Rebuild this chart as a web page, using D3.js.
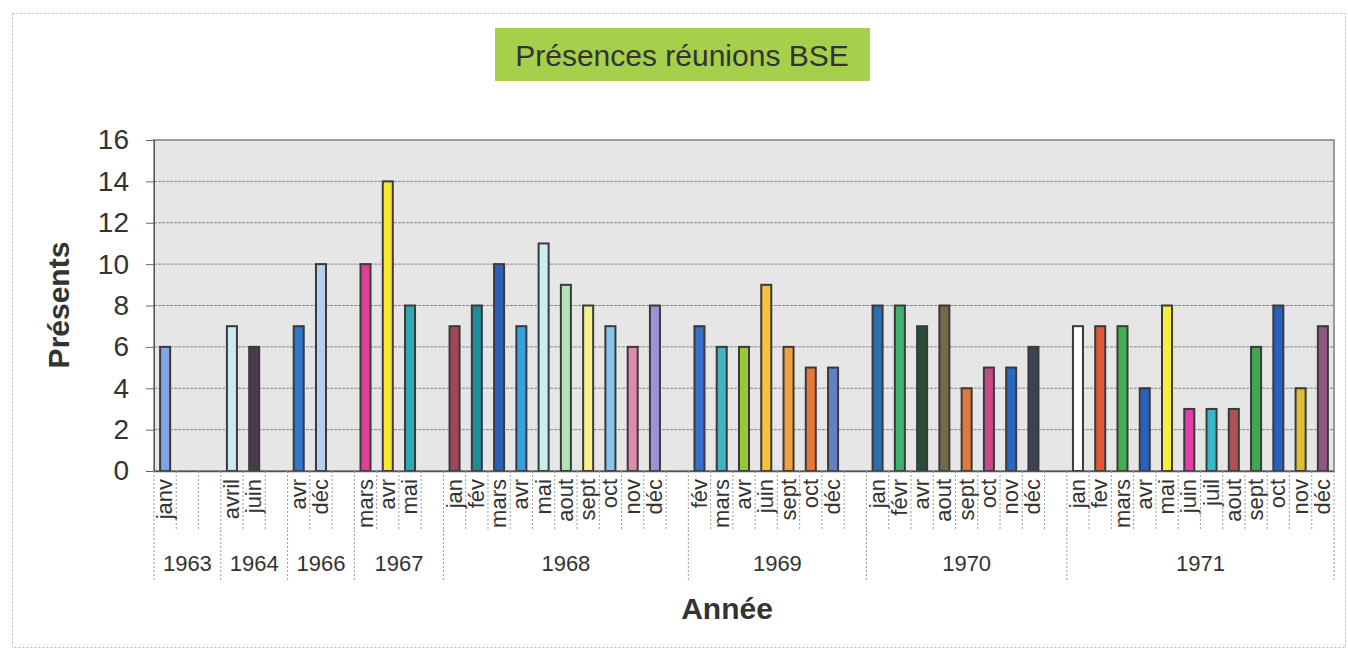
<!DOCTYPE html>
<html>
<head>
<meta charset="utf-8">
<script src="https://cdn.jsdelivr.net/npm/d3@7"></script>
<style>
  body { margin: 0; background: #fff; }
  svg { display: block; font-family: Arial, "Liberation Sans", sans-serif; }
</style>
</head>
<body>
<svg id="chart" width="1348" height="650"></svg>
<script>
// years (second category level)
const years = ["1963", "1964", "1966", "1967", "1968", "1969", "1970", "1971"];

// month labels per year, "" = empty slot
const monthLabels = [
  ["janv", "", ""],
  ["avril", "juin", ""],
  ["avr", "déc", ""],
  ["mars", "avr", "mai", ""],
  ["jan", "fév", "mars", "avr", "mai", "aout", "sept", "oct", "nov", "déc", ""],
  ["fév", "mars", "avr", "juin", "sept", "oct", "déc", ""],
  ["jan", "févr", "avr", "aout", "sept", "oct", "nov", "déc", ""],
  ["jan", "fev", "mars", "avr", "mai", "juin", "juil", "aout", "sept", "oct", "nov", "déc"]
];

// number of people present
const presents = [
  [6, null, null],
  [7, 6, null],
  [7, 10, null],
  [10, 14, 8, null],
  [7, 8, 10, 7, 11, 9, 8, 7, 6, 8, null],
  [7, 6, 6, 9, 6, 5, 5, null],
  [8, 8, 7, 8, 4, 5, 5, 6, null],
  [7, 7, 7, 4, 8, 3, 3, 3, 6, 8, 4, 7]
];

// each bar has its own colour (vary colors by point)
const barColors = [
  ["#7fa6e0", null, null],
  ["#c6eaee", "#4a3a50", null],
  ["#2f78d0", "#b8cff0", null],
  ["#e0409a", "#f8e830", "#30a8b8", null],
  ["#a0485a", "#208c98", "#2c5fb8", "#3a9ee0", "#c8eef4", "#b4e4b4", "#f4f08c", "#88c4f0", "#e088b0", "#a090d8", null],
  ["#3870c8", "#40b4c0", "#98c838", "#f8c040", "#f0a040", "#e87838", "#6080c8", null],
  ["#2a70b0", "#40b070", "#264e3a", "#756848", "#e07840", "#c84888", "#2868c0", "#3c4250", null],
  ["#ffffff", "#e05838", "#40b050", "#2860c0", "#f8f038", "#e040a8", "#38b8c8", "#b05058", "#40a850", "#2860c0", "#d8c038", "#905880"]
];

const yTicks = [0, 2, 4, 6, 8, 10, 12, 14, 16];

// flatten into slots
const slots = [];
years.forEach((yr, i) => {
  monthLabels[i].forEach((m, j) => {
    slots.push({ key: `${yr}-${j}`, year: yr, month: m, value: presents[i][j], color: barColors[i][j] });
  });
});

const svg = d3.select("#chart");
const plot = { left: 154, right: 1334, top: 140, bottom: 471 };

// outer dotted frame
svg.append("rect")
  .attr("x", 12.5).attr("y", 13.5)
  .attr("width", 1333).attr("height", 634)
  .attr("fill", "none")
  .attr("stroke", "#b8b8b8")
  .attr("stroke-dasharray", "2,2");

// title
svg.append("rect")
  .attr("x", 495).attr("y", 28)
  .attr("width", 375).attr("height", 53)
  .attr("fill", "#a6cf4b");
svg.append("text")
  .attr("x", 682).attr("y", 66)
  .attr("text-anchor", "middle")
  .style("font-size", "30px")
  .attr("fill", "#333")
  .text("Présences réunions BSE");

const x = d3.scaleBand()
  .domain(slots.map(d => d.key))
  .range([plot.left, plot.right])
  .paddingInner(0.55)
  .paddingOuter(0.275);

const y = d3.scaleLinear().domain([0, 16]).range([plot.bottom, plot.top]);

const slotLeft = k => x(k) - (x.step() - x.bandwidth()) / 2;

// plot background
svg.append("rect")
  .attr("x", plot.left).attr("y", plot.top)
  .attr("width", plot.right - plot.left).attr("height", plot.bottom - plot.top)
  .attr("fill", "#e6e6e6")
  .attr("stroke", "#9a9a9a")
  .attr("stroke-width", 2);

// gridlines
svg.append("g")
  .selectAll("line")
  .data(yTicks.filter(t => t > 0 && t < 16))
  .join("line")
  .attr("x1", plot.left).attr("x2", plot.right)
  .attr("y1", d => y(d)).attr("y2", d => y(d))
  .attr("stroke", "#888")
  .attr("stroke-width", 1)
  .attr("stroke-dasharray", "3,1");

// y axis
const yAxis = svg.append("g")
  .attr("transform", `translate(${plot.left},0)`)
  .call(d3.axisLeft(y).tickValues(yTicks).tickSize(8).tickPadding(17));
yAxis.select(".domain").attr("stroke", "#555");
yAxis.selectAll(".tick line").attr("stroke", "#666");
yAxis.selectAll(".tick text")
  .style("font-size", "28px")
  .style("font-family", "Arial, 'Liberation Sans', sans-serif")
  .attr("fill", "#333");

// bars
svg.append("g")
  .selectAll("rect")
  .data(slots.filter(d => d.value != null))
  .join("rect")
  .attr("x", d => x(d.key))
  .attr("y", d => y(d.value))
  .attr("width", x.bandwidth())
  .attr("height", d => y(0) - y(d.value))
  .attr("fill", d => d.color)
  .attr("stroke", "#3a3a3a")
  .attr("stroke-width", 2);

// x axis (month level)
const xAxis = svg.append("g")
  .attr("transform", `translate(0,${plot.bottom})`)
  .call(d3.axisBottom(x).tickSize(0).tickFormat(k => slots.find(s => s.key === k).month));
xAxis.select(".domain").attr("stroke", "#555").attr("stroke-width", 1.5);
xAxis.selectAll(".tick text")
  .attr("transform", "rotate(-90)")
  .attr("text-anchor", "end")
  .attr("x", -8)
  .attr("y", 0)
  .attr("dy", "0.32em")
  .style("font-size", "22px")
  .style("font-family", "Arial, 'Liberation Sans', sans-serif")
  .attr("fill", "#333");

// month separators
const boundaries = slots.map(d => slotLeft(d.key)).concat([plot.right]);
svg.append("g")
  .selectAll("line")
  .data(boundaries)
  .join("line")
  .attr("x1", d => d).attr("x2", d => d)
  .attr("y1", plot.bottom).attr("y2", 530)
  .attr("stroke", "#9a9a9a")
  .attr("stroke-dasharray", "2,2");

// year groups
const groups = years.map((yr, i) => {
  const keys = slots.filter(s => s.year === yr).map(s => s.key);
  const l = slotLeft(keys[0]);
  const r = slotLeft(keys[keys.length - 1]) + x.step();
  return { year: yr, l, r };
});

svg.append("g")
  .selectAll("line")
  .data(groups.map(g => g.l).concat([plot.right]))
  .join("line")
  .attr("x1", d => d).attr("x2", d => d)
  .attr("y1", 530).attr("y2", 580)
  .attr("stroke", "#9a9a9a")
  .attr("stroke-dasharray", "2,2");

svg.append("g")
  .selectAll("text")
  .data(groups)
  .join("text")
  .attr("x", d => (d.l + d.r) / 2)
  .attr("y", 571)
  .attr("text-anchor", "middle")
  .style("font-size", "22px")
  .attr("fill", "#333")
  .text(d => d.year);

// axis titles
svg.append("text")
  .attr("transform", "translate(69,305) rotate(-90)")
  .attr("text-anchor", "middle")
  .style("font-size", "30px")
  .style("font-weight", "bold")
  .attr("fill", "#333")
  .text("Présents");

svg.append("text")
  .attr("x", 727).attr("y", 619)
  .attr("text-anchor", "middle")
  .style("font-size", "30px")
  .style("font-weight", "bold")
  .attr("fill", "#333")
  .text("Année");
</script>
</body>
</html>
